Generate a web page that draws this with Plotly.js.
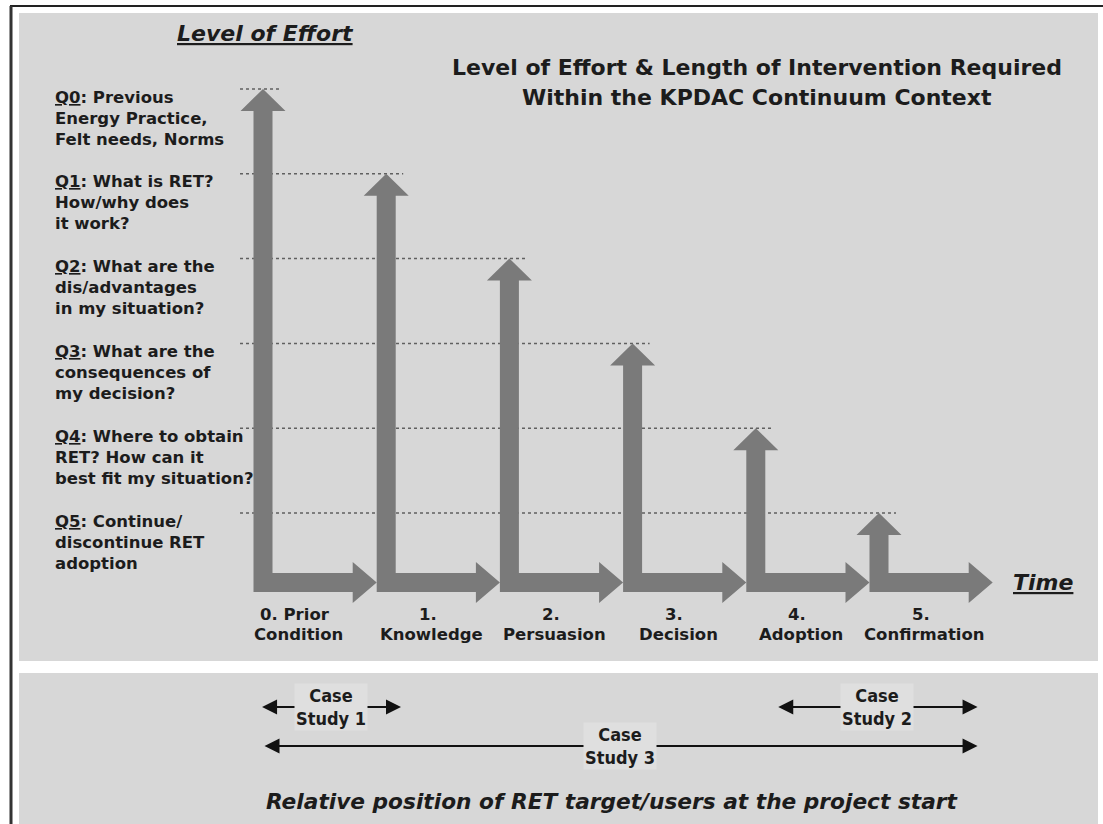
<!DOCTYPE html>
<html><head><meta charset="utf-8">
<script src="https://cdn.plot.ly/plotly-3.0.1.min.js"></script>
<style>html,body{margin:0;padding:0;background:#fff;}#chart{width:1103px;height:824px;}</style>
</head><body><div id="chart"></div>
<script>
// ---------------- data ----------------
const stageIndex = [0, 1, 2, 3, 4, 5];
const stageNumbers = ["0. Prior", "1.", "2.", "3.", "4.", "5."];
const stageNames = ["Condition", "Knowledge", "Persuasion", "Decision", "Adoption", "Confirmation"];
const effortLevel = [6, 5, 4, 3, 2, 1];
const questionCodes = ["Q0", "Q1", "Q2", "Q3", "Q4", "Q5"];
const questionLines = [
  [": Previous", "Energy Practice,", "Felt needs, Norms"],
  [": What is RET?", "How/why does", "it work?"],
  [": What are the", "dis/advantages", "in my situation?"],
  [": What are the", "consequences of", "my decision?"],
  [": Where to obtain", "RET? How can it", "best fit my situation?"],
  [": Continue/", "discontinue RET", "adoption"]
];
const titleLines = ["Level of Effort & Length of Intervention Required", "Within the KPDAC Continuum Context"];
const yAxisLabel = "Level of Effort";
const xAxisLabel = "Time";
const caseNames = ["Case<br>Study 1", "Case<br>Study 2", "Case<br>Study 3"];
const caseStart = [-0.02, 4.17, 0.0];
const caseEnd = [1.12, 5.8, 5.8];
const caseRow = [0, 0, 1];
const bottomTitle = "Relative position of RET target/users at the project start";

// ---------------- geometry / style ----------------
const W = 1103, H = 824;
const X0PX = 263, XPX = 123.2;   // stage index -> pixel
const Y0PX = 597.8, YPX = 84.8;  // effort level -> pixel
const xRange = [-X0PX / XPX, (W - X0PX) / XPX];
const yRange = [(Y0PX - H) / YPX, Y0PX / YPX];
const px = p => p / W;             // paper x from pixel
const py = p => 1 - p / H;         // paper y from pixel
const lvl = p => (Y0PX - p) / YPX; // level units from pixel (layout constants only)
const px2 = p => (p - X0PX) / XPX; // stage units from pixel (layout constants only)

const BG = '#d7d7d7', ARROW = '#7a7a7a', TXT = '#1c1c1c', DOT = '#606060';
const FONT = 'DejaVu Sans, Verdana, sans-serif';
const NARROW = 'DejaVu Sans Condensed, Liberation Sans Narrow, DejaVu Sans, sans-serif';

const AXIS_LEVEL = lvl(582.5);      // time axis bar centre
const SW = 9.5 / XPX;               // shaft half width
const HW = 22.5 / XPX;              // vertical head half width
const HL = 22 / YPX;                // vertical head length
const BT = 9.5 / YPX;               // bar half thickness
const BH = 20.5 / YPX;              // horizontal head half height
const BL = 24 / XPX;                // horizontal head length
const LABEL_OFFSET = 0.37;          // stage label offset along the time bar

const shapes = [];
// outer frame and panels
shapes.push({type:'line', xref:'paper', yref:'paper', x0:px(10), x1:1, y0:py(6), y1:py(6), line:{color:'#222', width:2}});
shapes.push({type:'line', xref:'paper', yref:'paper', x0:px(11), x1:px(11), y0:py(6), y1:0, line:{color:'#333', width:3}});
shapes.push({type:'rect', xref:'paper', yref:'paper', x0:px(19), x1:px(1098), y0:py(13), y1:py(661), fillcolor:BG, line:{width:0}, layer:'below'});
shapes.push({type:'rect', xref:'paper', yref:'paper', x0:px(19), x1:px(1098), y0:py(673), y1:0, fillcolor:BG, line:{width:0}, layer:'below'});

// dotted level lines
stageIndex.forEach((s, i) => {
  shapes.push({type:'line', xref:'x', yref:'y', x0:px2(240), x1:s + 17 / XPX, y0:effortLevel[i], y1:effortLevel[i],
    line:{color:DOT, width:1.5, dash:'dot'}});
});

// L-shaped arrows
stageIndex.forEach((s, i) => {
  const top = effortLevel[i];
  const xl = s - SW, xr = s + SW;
  const yb = AXIS_LEVEL - BT, ybt = AXIS_LEVEL + BT;
  const tip = s + 1 - SW;
  const pts = [
    [xl, yb], [xl, top - HL], [s - HW, top - HL], [s, top], [s + HW, top - HL], [xr, top - HL],
    [xr, ybt], [tip - BL, ybt], [tip - BL, AXIS_LEVEL + BH], [tip, AXIS_LEVEL], [tip - BL, AXIS_LEVEL - BH],
    [tip - BL, yb]
  ];
  const path = 'M ' + pts.map(p => p[0].toFixed(4) + ',' + p[1].toFixed(4)).join(' L ') + ' Z';
  shapes.push({type:'path', xref:'x', yref:'y', path:path, fillcolor:ARROW, line:{width:0}});
});

const ann = [];
// question labels
questionCodes.forEach((q, i) => {
  questionLines[i].forEach((line, j) => {
    const txt = j === 0 ? '<b><u>' + q + '</u>' + line + '</b>' : '<b>' + line + '</b>';
    ann.push({x:px(53), xref:'paper', xanchor:'left', y:effortLevel[i], yref:'y', yanchor:'middle',
      yshift:-(8 + 21 * j), text:txt, showarrow:false, font:{family:FONT, size:16.5, color:TXT}});
  });
});
// stage labels
stageIndex.forEach((s, i) => {
  const dx = i === 0 ? -10 : 0;
  ann.push({x:s + LABEL_OFFSET, xref:'x', xshift:dx - 4, y:AXIS_LEVEL, yref:'y', yshift:-32, xanchor:'center', yanchor:'middle',
    text:'<b>' + stageNumbers[i] + '</b>', showarrow:false, font:{family:FONT, size:16.5, color:TXT}});
  ann.push({x:s + LABEL_OFFSET, xref:'x', xshift:dx, y:AXIS_LEVEL, yref:'y', yshift:-52, xanchor:'center', yanchor:'middle',
    text:'<b>' + stageNames[i] + '</b>', showarrow:false, font:{family:FONT, size:16.5, color:TXT}});
});
// titles
ann.push({x:px(265), y:py(34), xref:'paper', yref:'paper', xanchor:'center', yanchor:'middle', showarrow:false,
  text:'<b><i><u>' + yAxisLabel + '</u></i></b>', font:{family:FONT, size:22, color:TXT}});
titleLines.forEach((t, k) => {
  ann.push({x:px(757), y:py(67 + 30 * k), xref:'paper', yref:'paper', xanchor:'center', yanchor:'middle', showarrow:false,
    text:'<b>' + t + '</b>', font:{family:FONT, size:22, color:TXT}});
});
ann.push({x:px(1043), xref:'paper', y:AXIS_LEVEL, yref:'y', xanchor:'center', yanchor:'middle', showarrow:false,
  text:'<b><i><u>' + xAxisLabel + '</u></i></b>', font:{family:FONT, size:22, color:TXT}});

// case studies
const rowPx = [707, 746];
caseNames.forEach((c, i) => {
  const y = lvl(rowPx[caseRow[i]]);
  ann.push({x:caseEnd[i], y:y, xref:'x', yref:'y', ax:caseStart[i], ay:y, axref:'x', ayref:'y', text:'',
    showarrow:true, arrowhead:2, startarrowhead:2, arrowside:'end+start', arrowsize:1.5, startarrowsize:1.5,
    arrowwidth:2, arrowcolor:'#111', standoff:0, startstandoff:0});
});
caseNames.forEach((c, i) => {
  const y = lvl(rowPx[caseRow[i]]);
  ann.push({x:(caseStart[i] + caseEnd[i]) / 2, y:y, xref:'x', yref:'y', xanchor:'center', yanchor:'middle',
    showarrow:false, text:'<b>' + c + '</b>', bgcolor:'#dfdfdf', borderpad:1,
    font:{family:NARROW, size:18, color:TXT}});
});
ann.push({x:px(612), y:py(801), xref:'paper', yref:'paper', xanchor:'center', yanchor:'middle', showarrow:false,
  text:'<b><i>' + bottomTitle + '</i></b>', font:{family:FONT, size:21.7, color:TXT}});

const layout = {
  width:W, height:H, margin:{l:0, r:0, t:0, b:0, pad:0},
  paper_bgcolor:'#ffffff', plot_bgcolor:'rgba(0,0,0,0)',
  xaxis:{range:xRange, visible:false, fixedrange:true, domain:[0,1]},
  yaxis:{range:yRange, visible:false, fixedrange:true, domain:[0,1]},
  showlegend:false, shapes:shapes, annotations:ann
};
Plotly.newPlot('chart', [], layout, {staticPlot:true, displayModeBar:false});
</script>
</body></html>
